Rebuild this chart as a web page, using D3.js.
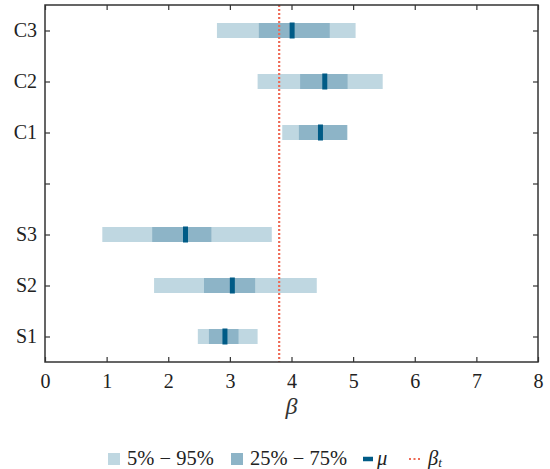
<!DOCTYPE html>
<html>
<head>
<meta charset="utf-8">
<script src="https://cdn.jsdelivr.net/npm/d3@7"></script>
<style>
body { margin: 0; background: #fff; }
</style>
</head>
<body>
<div id="chart"></div>
<script>
// Rows from bottom to top; the empty name is the gap between groups
const names = ["S1", "S2", "S3", "", "C1", "C2", "C3"];
const lo5  = [2.48, 1.77, 0.93, null, 3.85, 3.45, 2.79];
const hi95 = [3.45, 4.41, 3.68, null, 4.91, 5.48, 5.04];
const lo25 = [2.66, 2.58, 1.74, null, 4.12, 4.14, 3.47];
const hi75 = [3.14, 3.41, 2.70, null, 4.90, 4.91, 4.62];
const means = [2.92, 3.04, 2.28, null, 4.47, 4.54, 4.01];
const betaT = 3.8;
const xTicks = [0, 1, 2, 3, 4, 5, 6, 7, 8];
const legendLabels = ["5% \u2212 95%", "25% \u2212 75%", "\u03bc", "\u03b2"];

const Font = "Liberation Serif";
const Width = 550, Height = 469;
const Margin = {top: 5, right: 12, bottom: 107, left: 45};
const WidthInner = Width - Margin.left - Margin.right;
const HeightInner = Height - Margin.top - Margin.bottom;

const ColLight = "#bfd7e1", ColMid = "#8db4c7", ColDark = "#005b86", ColRed = "#ee6a55";

let Canvas = d3.select("#chart").append("svg")
    .attr("width", Width).attr("height", Height)
    .attr("font-family", Font);
let Plot = Canvas.append("g")
    .attr("transform", `translate(${Margin.left}, ${Margin.top})`);

let ScaleX = d3.scaleLinear().domain([0, 8]).range([0, WidthInner]);
let ScaleY = d3.scaleLinear().domain([0.5, 7.5]).range([HeightInner, 0]);
const BarH = 15;

let rows = names.map((n, i) => ({name: n, pos: i + 1, lo5: lo5[i], hi95: hi95[i],
                                 lo25: lo25[i], hi75: hi75[i], mean: means[i]}))
    .filter(r => r.mean !== null);

Plot.selectAll("rect.outer").data(rows).enter().append("rect")
    .attr("x", r => ScaleX(r.lo5)).attr("width", r => ScaleX(r.hi95) - ScaleX(r.lo5))
    .attr("y", r => ScaleY(r.pos) - BarH / 2).attr("height", BarH)
    .attr("fill", ColLight);
Plot.selectAll("rect.inner").data(rows).enter().append("rect")
    .attr("x", r => ScaleX(r.lo25)).attr("width", r => ScaleX(r.hi75) - ScaleX(r.lo25))
    .attr("y", r => ScaleY(r.pos) - BarH / 2).attr("height", BarH)
    .attr("fill", ColMid);
Plot.selectAll("line.mean").data(rows).enter().append("line")
    .attr("x1", r => ScaleX(r.mean)).attr("x2", r => ScaleX(r.mean))
    .attr("y1", r => ScaleY(r.pos) - BarH / 2 - 0.5).attr("y2", r => ScaleY(r.pos) + BarH / 2 + 0.5)
    .attr("stroke", ColDark).attr("stroke-width", 5);

// true beta
Plot.append("line")
    .attr("x1", ScaleX(betaT)).attr("x2", ScaleX(betaT))
    .attr("y1", 0).attr("y2", HeightInner)
    .attr("stroke", ColRed).attr("stroke-width", 2.2).attr("stroke-dasharray", "2,2");

// axes: ticks inward on all four sides
const yTickVals = names.map((n, i) => i + 1);
function styleAxis(g) {
    g.attr("font-family", Font).attr("font-size", 20);
    g.select(".domain").remove();
    g.selectAll(".tick line").attr("stroke", "#333").attr("stroke-width", 1.2);
    g.selectAll("text").attr("fill", "#222");
}
Plot.append("g").attr("transform", `translate(0, ${HeightInner})`)
    .call(d3.axisBottom(ScaleX).tickValues(xTicks).tickFormat(d3.format("d"))
          .tickSizeInner(-5).tickPadding(12))
    .call(styleAxis);
Plot.append("g")
    .call(d3.axisTop(ScaleX).tickValues(xTicks).tickFormat("").tickSizeInner(-5))
    .call(styleAxis);
Plot.append("g")
    .call(d3.axisLeft(ScaleY).tickValues(yTickVals).tickFormat((d, i) => names[i])
          .tickSizeInner(-5).tickPadding(8))
    .call(styleAxis);
Plot.append("g").attr("transform", `translate(${WidthInner}, 0)`)
    .call(d3.axisRight(ScaleY).tickValues(yTickVals).tickFormat("").tickSizeInner(-5))
    .call(styleAxis);
Plot.append("rect").attr("width", WidthInner).attr("height", HeightInner)
    .attr("fill", "none").attr("stroke", "#333").attr("stroke-width", 1.5);

// x label
Canvas.append("text").attr("x", Margin.left + WidthInner / 2).attr("y", 414)
    .attr("text-anchor", "middle").attr("font-size", 24).attr("font-style", "italic")
    .attr("fill", "#333").text("\u03b2");

// legend
let Leg = Canvas.append("g").attr("transform", "translate(0, 459)")
    .attr("font-size", 20.5).attr("fill", "#222");
Leg.append("rect").attr("x", 108).attr("y", -6).attr("width", 12).attr("height", 12).attr("fill", ColLight);
Leg.append("text").attr("x", 127).attr("y", 6).text(legendLabels[0]);
Leg.append("rect").attr("x", 231).attr("y", -6).attr("width", 12).attr("height", 12).attr("fill", ColMid);
Leg.append("text").attr("x", 250).attr("y", 6).text(legendLabels[1]);
Leg.append("line").attr("x1", 363).attr("x2", 373).attr("y1", 0).attr("y2", 0)
    .attr("stroke", ColDark).attr("stroke-width", 4.5);
Leg.append("text").attr("x", 377).attr("y", 6).attr("font-style", "italic").text(legendLabels[2]);
Leg.append("line").attr("x1", 409).attr("x2", 422).attr("y1", 0).attr("y2", 0)
    .attr("stroke", ColRed).attr("stroke-width", 2).attr("stroke-dasharray", "2,2.5");
let bt = Leg.append("text").attr("x", 428).attr("y", 6).attr("font-style", "italic");
bt.append("tspan").text(legendLabels[3]);
bt.append("tspan").attr("dy", 2).attr("font-size", 13).text("t");
</script>
</body>
</html>
